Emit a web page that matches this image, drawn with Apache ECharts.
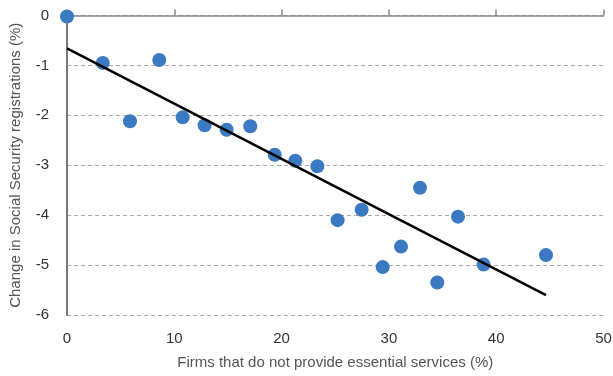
<!DOCTYPE html>
<html><head><meta charset="utf-8">
<script src="https://cdn.jsdelivr.net/npm/echarts@6/dist/echarts.min.js"></script>
<style>html,body{margin:0;padding:0;background:#fff}#c{width:613px;height:376px}</style>
</head><body><div id="c"></div>
<script>
const firmsPct = [0, 3.33, 5.87, 8.6, 10.78, 12.83, 14.88, 17.08, 19.36, 21.28, 23.33, 25.22, 27.46, 29.42, 31.13, 32.9, 34.51, 36.44, 38.83, 44.64];
const regChange = [-0.02, -0.95, -2.12, -0.89, -2.04, -2.20, -2.29, -2.22, -2.79, -2.91, -3.02, -4.10, -3.89, -5.04, -4.63, -3.45, -5.35, -4.03, -4.99, -4.80];
const trendX = [0, 44.64];
const trendY = [-0.66, -5.60];
const xTicks = [0, 10, 20, 30, 40, 50];
const yTicks = [-6, -5, -4, -3, -2, -1, 0];
const xName = 'Firms that do not provide essential services (%)';
const yName = 'Change in Social Security registrations (%)';

const font = 'Liberation Sans, Arial, Helvetica, sans-serif';
const chart = echarts.init(document.getElementById('c'), null, {renderer: 'canvas'});
chart.setOption({
  animation: false,
  grid: {left: 67, right: 9.5, top: 15.5, bottom: 61, containLabel: false, outerBoundsMode: 'none'},
  xAxis: [{
    type: 'value', min: xTicks[0], max: xTicks[xTicks.length-1], interval: 10,
    position: 'bottom',
    axisLine: {show: false}, axisTick: {show: false}, splitLine: {show: false},
    axisLabel: {color: '#333', fontSize: 15, fontFamily: font, margin: 16},
    name: xName, nameLocation: 'middle', nameGap: 40,
    nameTextStyle: {color: '#555', fontSize: 15, fontFamily: font}
  }, {
    type: 'value', min: xTicks[0], max: xTicks[xTicks.length-1], interval: 10,
    position: 'top',
    axisLine: {show: true, onZero: false, lineStyle: {color: '#888', width: 1.5}},
    axisTick: {show: true, inside: false, length: 6, lineStyle: {color: '#888', width: 1.5}},
    axisLabel: {show: false}, splitLine: {show: false}
  }],
  yAxis: {
    type: 'value', min: yTicks[0], max: yTicks[yTicks.length-1], interval: 1,
    axisLine: {show: true, onZero: false, lineStyle: {color: '#777', width: 2}},
    axisTick: {show: false},
    axisLabel: {color: '#333', fontSize: 15, fontFamily: font, margin: 18},
    splitLine: {show: true, lineStyle: {color: '#aaa', type: [4, 3], width: 1}},
    name: yName, nameLocation: 'middle', nameGap: 44, nameRotate: 90,
    nameTextStyle: {color: '#555', fontSize: 15, fontFamily: font}
  },
  series: [{
    type: 'scatter', xAxisIndex: 0,
    data: firmsPct.map((x, i) => [x, regChange[i]]),
    symbolSize: 14,
    itemStyle: {color: '#3b7ac3', opacity: 1},
    z: 3
  }, {
    type: 'line', xAxisIndex: 0,
    data: trendX.map((x, i) => [x, trendY[i]]),
    showSymbol: false, symbol: 'none',
    lineStyle: {color: '#000', width: 2.5},
    z: 4
  }]
});
</script></body></html>
